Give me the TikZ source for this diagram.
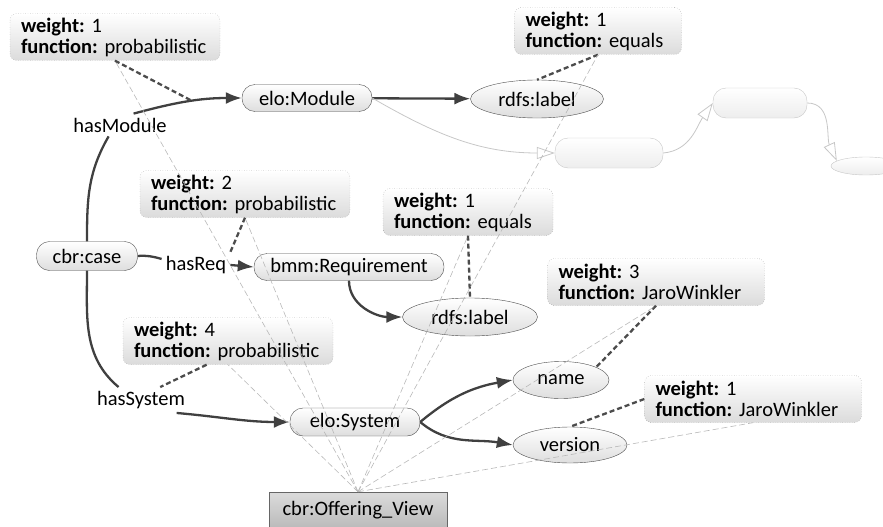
\documentclass[tikz,border=0pt]{standalone}
\usepackage{fontspec}
\setmainfont{Carlito}
\usetikzlibrary{arrows.meta}
\usetikzlibrary{shapes.geometric}
\usetikzlibrary{positioning}
\frenchspacing
\newcommand{\wf}[2]{\textbf{weight:} #1\\\mbox{\textbf{function:} #2}}

\begin{document}
\begin{tikzpicture}[x=1pt, y=-1pt, font=\fontsize{20.5}{22}\selectfont]
\tikzstyle{res}=[draw=black!70, rounded corners=13pt, top color=white, bottom color=black!13,
                    inner sep=2pt, minimum height=27pt];
\tikzstyle{lit}=[ellipse, draw=black!70, top color=white, bottom color=black!13,
                    inner sep=1pt, minimum height=38pt];
\tikzstyle{ghost}=[draw=black!22, top color=white, bottom color=black!7];
\tikzstyle{wbox}=[draw=black!50, dotted, rounded corners=7pt, top color=white, bottom color=black!14,
                    align=left, inner xsep=11pt, inner ysep=2pt, minimum height=47pt,
                    font=\fontsize{20.5}{21}\selectfont];
\tikzstyle{la}=[inner sep=4pt];
\tikzstyle{link}=[draw=black!75, line width=2.3pt];
\tikzstyle{rel}=[link, -{Latex[length=16pt, width=12pt]}];
\tikzstyle{ann}=[draw=black!70, line width=2.3pt, dash pattern=on 5pt off 3pt];
\tikzstyle{viewl}=[draw=black!28, line width=0.6pt, dash pattern=on 6pt off 3pt];
\tikzstyle{gl}=[draw=black!22, line width=0.8pt, -{Triangle[open, length=18pt, width=12pt]}];
\useasboundingbox (0,0) rectangle (883,527);
% resources and literals
\node[res, minimum width=101pt, minimum height=29pt] (case) at (87,256) {cbr:case};
\node[res, minimum width=130pt] (mod) at (307,98) {elo:Module};
\node[lit, minimum width=133pt] (lab1) at (537,99) {rdfs:label};
\node[res, minimum width=190pt] (req) at (349,267) {bmm:Requirement};
\node[lit, minimum width=135pt] (lab2) at (470,317) {rdfs:label};
\node[res, minimum width=130pt, minimum height=28pt] (sys) at (355,422) {elo:System};
\node[lit, minimum width=96pt, minimum height=37pt] (name) at (561,380) {name};
\node[lit, minimum width=114pt, minimum height=36pt] (ver) at (570,445) {version};
\node[draw=black!60, top color=black!14, bottom color=black!27,
      minimum width=178pt, minimum height=36pt] (view) at (358,510) {cbr:Offering\_View};
\node[res, ghost, minimum width=108pt, minimum height=30pt] (g1) at (609,153) {};
\node[res, ghost, minimum width=94pt, minimum height=30pt] (g2) at (760,103) {};
\node[lit, ghost, minimum width=70pt, minimum height=18pt] (g3) at (866,166) {};
% edge labels
\node[la] (hm) at (120,125) {hasModule};
\node[la] (hr) at (196,265) {hasReq};
\node[la] (hs) at (141,400) {hasSystem};
% weights
\node[wbox, text width=188pt] (w1) at (115,37) {\wf{1}{probabilistic}};
\node[wbox, text width=188pt] (w2) at (245,194) {\wf{2}{probabilistic}};
\node[wbox, text width=145pt] (w3) at (598,31) {\wf{1}{equals}};
\node[wbox, text width=148pt] (w4) at (468,212) {\wf{1}{equals}};
\node[wbox, text width=188pt] (w5) at (228,341) {\wf{4}{probabilistic}};
\node[wbox, text width=195pt] (w6) at (656,282) {\wf{3}{JaroWinkler}};
\node[wbox, text width=195pt] (w7) at (753,399) {\wf{1}{JaroWinkler}};
% edges
\draw[link] (case.north) to[out=90, in=-120] (hm.-135);
\draw[rel] (hm.40) to[out=15, in=180] coordinate[pos=0.55] (hmc) (mod.west);
\draw[link] (case.east) to[out=5, in=165] (hr.170);
\draw[rel] (hr.east) -- (req.west);
\draw[link] (case.south) to[out=-90, in=140] (hs.150);
\draw[rel] (hs.-20) to[out=-5, in=180] (sys.west);
\draw[rel] (mod) -- (lab1);
\draw[rel] (req.south) to[out=-90, in=180] (lab2.west);
\draw[rel] (sys.east) to[out=40, in=190] (name.west);
\draw[rel] (sys.east) to[out=-40, in=170] (ver.west);
\draw[gl] (mod.east) to[out=-30, in=180] (g1.west);
\draw[gl] (g1.east) to[out=5, in=-125] (g2.west);
\draw[gl] (g2.east) to[out=0, in=115] (g3.170);
% annotations
\foreach \a/\b in {w1.south/hmc, w2.south/hr.north east, w3.south/lab1.north, w4.south/lab2.north,
                   w5.228/hs.34, w6.south/name.20, w7.west/ver.north}
  {\draw[ann] (\a) -- (\b);}
\foreach \w in {w1, w2, w3, w4, w5, w6, w7}
  {\draw[viewl] (view.north) -- (\w.south);}
\end{tikzpicture}
\end{document}
